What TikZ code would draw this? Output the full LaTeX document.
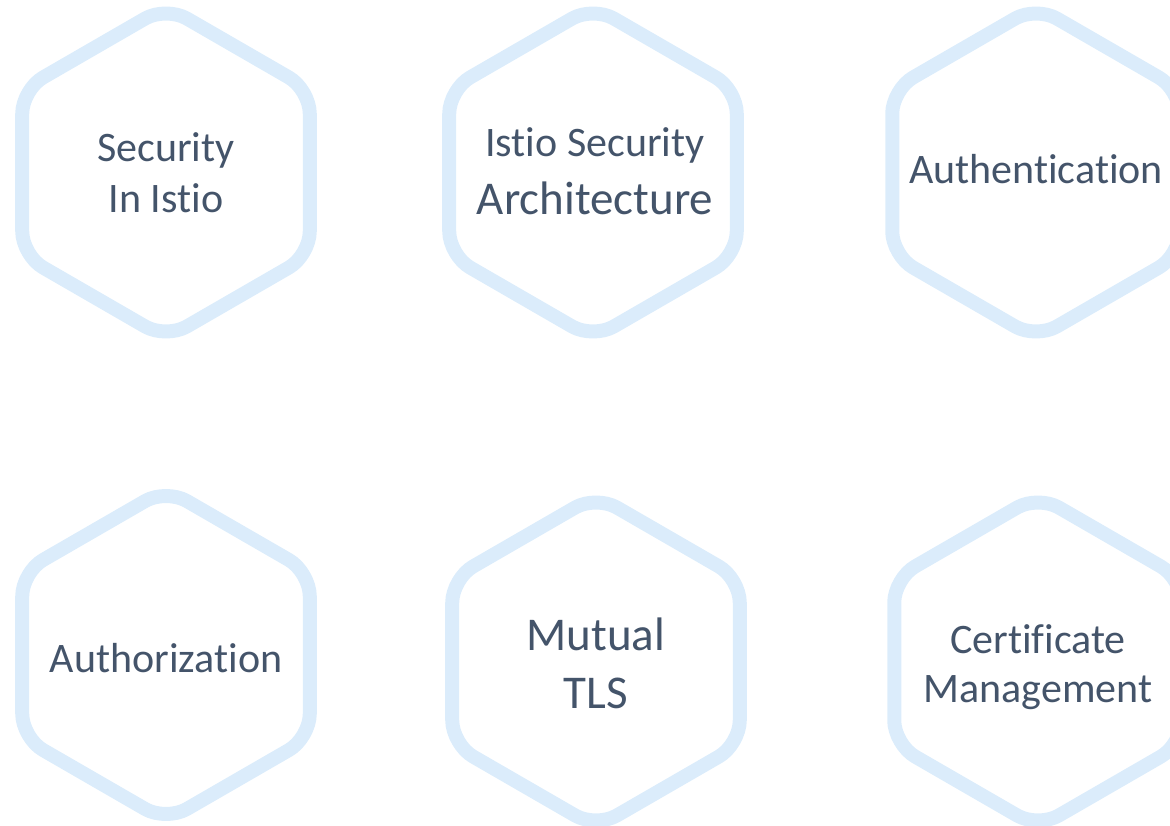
\documentclass[tikz,border=0pt]{standalone}
\usepackage{fontspec}
\setmainfont{Carlito}[Ligatures={NoCommon}]
\usetikzlibrary{calc}
\definecolor{hexblue}{RGB}{219,236,251}
\definecolor{textslate}{RGB}{68,84,106}

\begin{document}
\begin{tikzpicture}[x=1pt, y=-1pt,
    hexline/.style={draw=hexblue, line width=14pt, rounded corners=24pt, line join=round},
    topic/.style={text=textslate, align=center, anchor=base, inner sep=0pt, font=\fontsize{42}{51}\selectfont}]
    \useasboundingbox (0,0) rectangle (1170,826);

    % Hexagon centres
    \coordinate (hexSec)   at (166,172.5);
    \coordinate (hexArch)  at (593,172.5);
    \coordinate (hexAuthn) at (1036,172.5);
    \coordinate (hexAuthz) at (166,655);
    \coordinate (hexMtls)  at (596,661.5);
    \coordinate (hexCert)  at (1038,661.5);

    % Hexagon outlines, circumradius 166
    \foreach \c in {hexSec,hexArch,hexAuthn,hexAuthz,hexMtls,hexCert}
        \draw[hexline] ($(\c)+(-143.76,0)$) -- ++(0,-83) -- ++(143.76,-83) -- ++(143.76,83)
            -- ++(0,166) -- ++(-143.76,83) -- ++(-143.76,-83) -- cycle;

    % Labels (base = baseline of the last line)
    \node[topic] (secText)   at ($(hexSec)+(0,40.5)$)  {Security\\In Istio};
    \node[topic] (archText)  at ($(hexArch)+(2,42.5)$) {Istio Security\\[7pt]{\fontsize{47}{56}\selectfont Architecture}};
    \node[topic] (authnText) at ($(hexAuthn)+(0,11.5)$) {Authentication};
    \node[topic] (authzText) at ($(hexAuthz)+(0,17)$)   {Authorization};
    \node[topic, font=\fontsize{47}{58}\selectfont] (mtlsText) at ($(hexMtls)+(0,46.5)$) {Mutual\\TLS};
    \node[topic, font=\fontsize{42}{49}\selectfont] (certText) at ($(hexCert)+(0,40.5)$) {Certificate\\Management};
\end{tikzpicture}
\end{document}
